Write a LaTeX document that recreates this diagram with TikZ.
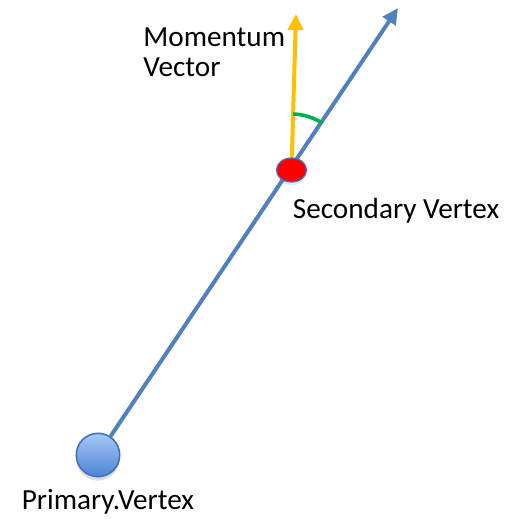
\documentclass[tikz,border=0pt]{standalone}
\usepackage{fontspec}
\setmainfont{Carlito}
\usetikzlibrary{arrows.meta,shapes.geometric,shadows,backgrounds,angles}
\definecolor{trkblue}{RGB}{79,129,189}
\definecolor{trkedge}{RGB}{65,113,190}
\definecolor{pvtop}{RGB}{165,200,248}
\definecolor{pvbot}{RGB}{78,132,212}
\definecolor{momorange}{RGB}{255,192,0}
\definecolor{anggreen}{RGB}{0,176,80}
\tikzset{
  vtxlabel/.style={font=\fontsize{14.6}{15}\selectfont, inner sep=0pt, align=left},
  track/.style={-{Triangle[length=8pt,width=7.5pt]}, draw=trkblue, line width=2pt},
  momentum/.style={-{Triangle[length=8pt,width=7.5pt]}, draw=momorange, line width=2pt},
  pvtx/.style={
    circle, minimum size=21.7pt, inner sep=0pt, draw=trkedge, line width=0.8pt,
    top color=pvtop, bottom color=pvbot,
    drop shadow={opacity=0.25, shadow xshift=0pt, shadow yshift=-2pt}
  },
  svtx/.style={
    ellipse, minimum width=15pt, minimum height=12pt, inner sep=0pt,
    fill=red, draw=trkedge, line width=0.6pt,
    drop shadow={opacity=0.2, shadow xshift=0pt, shadow yshift=-1.5pt}
  },
  anglearc/.style={draw=anggreen, line width=1.8pt, angle radius=28pt}
}

\begin{document}
\begin{tikzpicture}[x=0.5pt, y=0.5pt]
  \useasboundingbox (0,0) rectangle (512,519);

  % vertices
  \node[pvtx] (primary) at (98,64) {};
  \node[svtx] (secondary) at (291.5,349) {};
  \coordinate (trktip) at (398,511);
  \coordinate (momtip) at (296,505);

  % track and momentum direction
  \begin{scope}[on background layer]
    \draw[track] (primary) -- (trktip);
    \draw[momentum] (secondary) -- (momtip);
  \end{scope}
  \pic[anglearc] {angle=trktip--secondary--momtip};

  % labels (base of a two-line node is its last line)
  \node[vtxlabel, anchor=base west] (momlabel) at (143,442) {Momentum\\Vector};
  \node[vtxlabel, anchor=base west] (seclabel) at (292.5,300) {Secondary Vertex};
  \node[vtxlabel, anchor=base west] (primlabel) at (21.5,10) {Primary.Vertex};
\end{tikzpicture}
\end{document}
